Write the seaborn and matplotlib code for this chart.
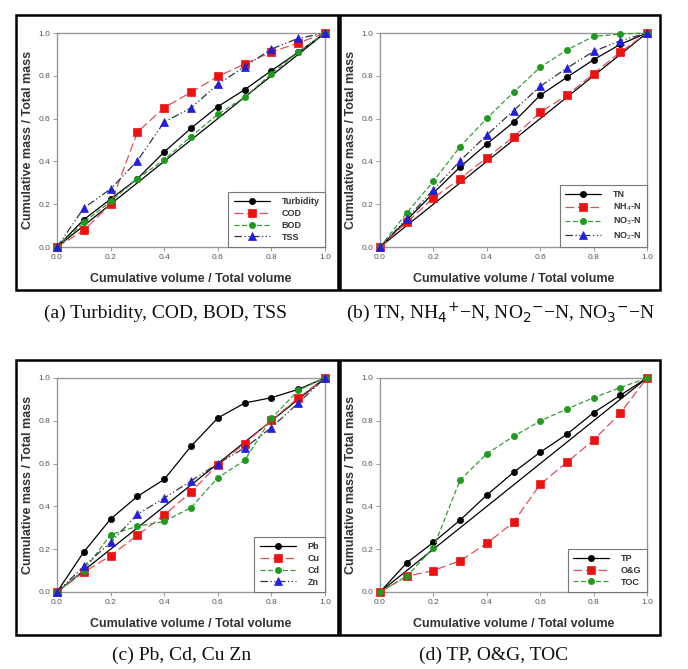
import matplotlib
matplotlib.use("Agg")
import matplotlib.pyplot as plt
import seaborn as sns
import numpy as np
from matplotlib.patches import Rectangle

sns.set_theme(style="white")
plt.rcParams['font.family'] = ['Liberation Sans', 'DejaVu Sans']

volume = [0.0, 0.1, 0.2, 0.3, 0.4, 0.5, 0.6, 0.7, 0.8, 0.9, 1.0]

# (a)
turbidity = [0, 0.128, 0.224, 0.319, 0.444, 0.555, 0.656, 0.735, 0.824, 0.91, 1.0]
cod = [0, 0.078, 0.200, 0.537, 0.651, 0.723, 0.797, 0.855, 0.911, 0.953, 1.0]
bod = [0, 0.115, 0.213, 0.319, 0.408, 0.516, 0.620, 0.700, 0.810, 0.910, 1.0]
tss = [0, 0.182, 0.271, 0.403, 0.584, 0.650, 0.760, 0.843, 0.925, 0.975, 1.0]
# (b)
tn = [0, 0.125, 0.252, 0.374, 0.481, 0.583, 0.709, 0.793, 0.875, 0.947, 1.0]
nh4 = [0, 0.115, 0.229, 0.319, 0.417, 0.514, 0.629, 0.709, 0.810, 0.911, 1.0]
no3 = [0, 0.159, 0.307, 0.469, 0.601, 0.723, 0.840, 0.921, 0.984, 0.995, 1.0]
no2 = [0, 0.132, 0.268, 0.403, 0.523, 0.637, 0.751, 0.836, 0.914, 0.964, 1.0]
# (c)
pb = [0, 0.187, 0.341, 0.447, 0.526, 0.681, 0.813, 0.883, 0.908, 0.947, 1.0]
cu = [0, 0.092, 0.170, 0.265, 0.360, 0.467, 0.595, 0.693, 0.802, 0.907, 1.0]
cd = [0, 0.100, 0.268, 0.307, 0.330, 0.394, 0.534, 0.615, 0.811, 0.942, 1.0]
zn = [0, 0.120, 0.232, 0.363, 0.439, 0.519, 0.600, 0.673, 0.768, 0.883, 1.0]
# (d)
tp = [0, 0.136, 0.232, 0.336, 0.453, 0.559, 0.653, 0.737, 0.838, 0.919, 1.0]
og = [0, 0.073, 0.100, 0.146, 0.227, 0.326, 0.503, 0.606, 0.710, 0.836, 1.0]
toc = [0, 0.073, 0.207, 0.523, 0.646, 0.727, 0.799, 0.855, 0.908, 0.955, 1.0]

ticks = [0.0, 0.2, 0.4, 0.6, 0.8, 1.0]
tick_labels = ["0.0", "0.2", "0.4", "0.6", "0.8", "1.0"]

captions = ["(a) Turbidity, COD, BOD, TSS",
            "(b) TN, NH$_4$$^{+}$\u2212N, NO$_2$$^{-}$\u2212N, NO$_3$$^{-}$\u2212N",
            "(c) Pb, Cd, Cu Zn",
            "(d) TP, O&G, TOC"]

STY = {
    'black': dict(color='black', marker='o', markersize=4.5, linestyle='-', mfc='black', mec='black'),
    'red': dict(color='#e0505a', marker='s', markersize=5.5, linestyle=(0, (7, 3)), mfc='#ee1111', mec='#ee1111'),
    'green': dict(color='#3a9a3a', marker='o', markersize=4.5, linestyle=(0, (4, 2)), mfc='#1f9a1f', mec='#1f9a1f'),
    'blue': dict(color='#333344', marker='^', markersize=5.5, linestyle=(0, (6, 2, 1, 2, 1, 2)), mfc='#1f1fdd', mec='#1f1fdd'),
}

panels = [
    ([("Turbidity", turbidity, 'black'), ("COD", cod, 'red'), ("BOD", bod, 'green'), ("TSS", tss, 'blue')]),
    ([("TN", tn, 'black'), ("NH$_4$-N", nh4, 'red'), ("NO$_3$-N", no3, 'green'), ("NO$_2$-N", no2, 'blue')]),
    ([("Pb", pb, 'black'), ("Cu", cu, 'red'), ("Cd", cd, 'green'), ("Zn", zn, 'blue')]),
    ([("TP", tp, 'black'), ("O&G", og, 'red'), ("TOC", toc, 'green')]),
]

fig = plt.figure(figsize=(6.88, 6.69), dpi=100)
W, H = 688, 669

axes_px = [(57, 33, 325, 247), (380, 33, 647, 247), (57, 378, 325, 592), (380, 378, 647, 592)]
box_px = [(16, 15, 338, 290), (340, 15, 660, 290), (16, 360, 338, 635), (340, 360, 660, 635)]
cap_px = [(166, 313), (500, 313), (182, 655), (494, 655)]

for i, series in enumerate(panels):
    l, t, r, b = axes_px[i]
    ax = fig.add_axes([l / W, 1 - b / H, (r - l) / W, (b - t) / H])
    sns.lineplot(x=volume, y=volume, ax=ax, color='black', linewidth=0.9, legend=False)
    for name, vals, key in series:
        st = STY[key]
        sns.lineplot(x=volume, y=vals, ax=ax, label=name, color=st['color'], marker=st['marker'],
                     markersize=st['markersize'], linestyle=st['linestyle'], linewidth=0.9,
                     markerfacecolor=st['mfc'], markeredgecolor=st['mec'], markeredgewidth=0.5,
                     clip_on=False, zorder=3)
    ax.set_xlim(0, 1)
    ax.set_ylim(0, 1)
    ax.set_xticks(ticks)
    ax.set_xticklabels(tick_labels)
    ax.set_yticks(ticks)
    ax.set_yticklabels(tick_labels)
    ax.tick_params(axis='both', which='both', direction='out', length=3, width=0.6,
                   color='#888888', labelcolor='#555555', labelsize=6, pad=2, bottom=True, left=True)
    for sp in ax.spines.values():
        sp.set_color('#999999')
        sp.set_linewidth(1.0)
    ax.set_xlabel("Cumulative volume / Total volume", fontsize=9, fontweight='bold', color='#333333', labelpad=9)
    ax.set_ylabel("Cumulative mass / Total mass", fontsize=9, fontweight='bold', color='#333333', labelpad=3)
    leg = ax.legend(loc='lower right', borderaxespad=0, fancybox=False, framealpha=1,
                    edgecolor='#777777', fontsize=6.5, handlelength=4.0, handletextpad=1.3,
                    labelspacing=0.3, borderpad=0.6)
    leg.get_frame().set_linewidth(0.8)
    for txt in leg.get_texts():
        txt.set_fontweight('bold')
        txt.set_color('#333333')
    bx0, by0, bx1, by1 = box_px[i]
    fig.patches.append(Rectangle((bx0 / W, 1 - by1 / H), (bx1 - bx0) / W, (by1 - by0) / H,
                                 transform=fig.transFigure, fill=False, edgecolor='black',
                                 linewidth=1.8, zorder=0))
    cx, cy = cap_px[i]
    fig.text(cx / W, 1 - cy / H, captions[i], ha='center', va='center', fontsize=14,
             family=['Liberation Serif', 'DejaVu Serif'], color='#111111')

fig.savefig("out.png", dpi=100)
